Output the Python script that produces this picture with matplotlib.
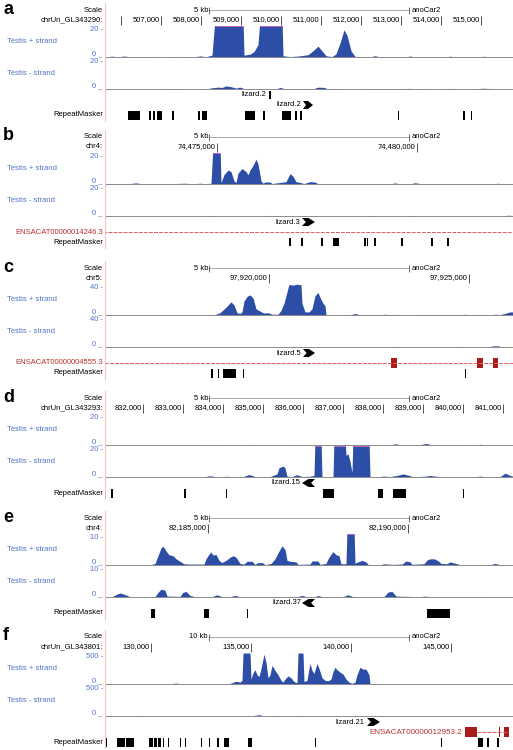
import numpy as np
import matplotlib.pyplot as plt
from matplotlib.lines import Line2D

plt.rcParams['font.family'] = ['Liberation Sans', 'DejaVu Sans']

W, H = 513, 750
LEFT, PW = 105, 408
FS = 5.5
BLUE = '#2d4ea6'
LBLUE = '#5573c4'
RED = '#a81c1c'
LRED = '#e06060'

# ---------------- data (genomic position, read depth) ----------------
# panel a  chrUn_GL343290
a_ticks = [506000, 507000, 508000, 509000, 510000, 511000, 512000, 513000, 514000, 515000]
a_tick_labels = ['', '507,000', '508,000', '509,000', '510,000', '511,000', '512,000',
                 '513,000', '514,000', '515,000']
a_plus = [(505600, 0.2), (505775, 0.5), (505925, 0.2), (506075, 0.6), (506225, 0.2), (507100, 0),
          (507275, 0.2), (507475, 0), (507850, 0.2), (507975, 0.7), (508125, 0.2), (508275, 1.2),
          (508350, 25), (509050, 25), (509075, 1.2), (509225, 1.8), (509325, 3.5), (509425, 8),
          (509475, 25), (510025, 25), (510050, 0.8), (510225, 0.3), (510425, 0.6), (510675, 1.5),
          (510800, 4), (510925, 7), (511025, 4), (511125, 0.8), (511275, 0.3), (511375, 2),
          (511475, 9), (511575, 17.5), (511650, 14), (511750, 4), (511850, 0.4), (512225, 0.1),
          (512350, 0.8), (512475, 0.1), (513100, 0.1), (513225, 0.6), (513350, 0.1), (514100, 0.1),
          (514225, 0.5), (514350, 0.1), (514975, 0.1), (515075, 0.5), (515200, 0.1), (515800, 0.1)]
a_minus = [(505600, 0), (507100, 0), (507275, 0.3), (507475, 0), (508100, 0), (508275, 0.8),
           (508425, 1.2), (508525, 1.0), (508625, 2.0), (508750, 1.5), (508875, 0.6), (508975, 1.2),
           (509075, 0.3), (509225, 0), (509875, 0), (509975, 1.0), (510100, 0.2), (510800, 0.1),
           (510925, 1.2), (511075, 1.0), (511175, 0.1), (512100, 0), (512275, 0.3), (512475, 0.1),
           (512725, 0.3), (512925, 0.1), (513175, 0.4), (513325, 0.1), (514100, 0), (514250, 0.4),
           (514375, 0), (514875, 0), (515025, 0.5), (515175, 0.4), (515275, 0), (515800, 0)]
a_rmsk = [(506175, 506475), (506700, 506750), (506800, 506850), (506900, 507025), (507275, 507325),
          (507925, 507975), (508025, 508150), (509100, 509350), (509550, 509600), (510025, 510250),
          (510350, 510400), (510475, 510525), (512925, 512960), (514550, 514600), (514750, 514785)]
a_lizard_1 = (509700, 509745)
a_lizard_2 = (510550, 510800)

# panel b  chr4
b_ticks = [74475000, 74480000]
b_tick_labels = ['74,475,000', '74,480,000']
b_plus = [(74472200, 0.3), (74472825, 0.3), (74472975, 0.7), (74473125, 0.2), (74473825, 0.2),
          (74474200, 0.5), (74474375, 0.2), (74474575, 0.5), (74474725, 0.2), (74474850, 0.5),
          (74474900, 25), (74475075, 25), (74475100, 1), (74475175, 6), (74475275, 9),
          (74475350, 8), (74475425, 2), (74475475, 1), (74475525, 7), (74475625, 10),
          (74475725, 8), (74475775, 6), (74475825, 9), (74475900, 12), (74475975, 16),
          (74476025, 13), (74476100, 2), (74476150, 0.5), (74476200, 1.3), (74476325, 1.3),
          (74476375, 0.3), (74476725, 1.5), (74476825, 6.7), (74476900, 5), (74476975, 1.5),
          (74477075, 1), (74477175, 0.3), (74477325, 1.5), (74477450, 1.3), (74477525, 0.2),
          (74479325, 0.1), (74479450, 0.7), (74479575, 0.1), (74479825, 0.1), (74479950, 0.8),
          (74480100, 0.2), (74481925, 0.1), (74482025, 0.5), (74482125, 0.1), (74482400, 0.1)]
b_minus = [(74472200, 0), (74474700, 0), (74474825, 0.3), (74474950, 0), (74476200, 0),
           (74476325, 0.4), (74476475, 0), (74478775, 0), (74478875, 0.3), (74478975, 0),
           (74479750, 0), (74479850, 0.3), (74479950, 0), (74482150, 0), (74482275, 0.5),
           (74482400, 0.3)]
b_rmsk = [(74476810, 74476845), (74477110, 74477145), (74477610, 74477645), (74477900, 74478050),
          (74478685, 74478720), (74478740, 74478775), (74478925, 74478975), (74479610, 74479645),
          (74480350, 74480400), (74480750, 74480800)]
b_lizard = (74477125, 74477450)
b_gene_span = (74470000, 74485000)
b_gene_exons = []

# panel c  chr5
c_ticks = [97920000, 97925000]
c_tick_labels = ['97,920,000', '97,925,000']
c_plus = [(97915900, 0), (97918525, 0), (97918650, 0.5), (97918775, 3), (97918925, 10),
          (97919050, 17), (97919125, 13), (97919200, 3), (97919275, 2), (97919325, 4),
          (97919375, 18), (97919450, 24), (97919525, 26), (97919600, 22), (97919675, 8),
          (97919775, 5), (97919875, 2.5), (97919975, 3), (97920075, 1), (97920225, 1),
          (97920300, 6), (97920375, 15), (97920450, 30), (97920500, 39.5), (97920600, 38.5),
          (97920700, 39.8), (97920800, 39), (97920825, 15), (97920900, 4), (97921000, 4),
          (97921075, 8), (97921150, 25), (97921225, 29), (97921300, 20), (97921350, 15),
          (97921400, 12), (97921425, 0),
          (97922025, 0), (97922150, 2), (97922275, 0.3), (97922775, 0.2), (97922900, 1),
          (97923025, 0.4), (97923150, 0.8), (97923275, 0.1), (97924775, 0.2), (97924900, 1),
          (97925025, 0.2), (97925525, 0.3), (97925650, 1), (97925775, 0.5), (97925900, 2),
          (97926025, 4), (97926100, 4)]
c_minus = [(97915900, 0), (97923025, 0), (97923150, 0.5), (97923275, 0), (97924650, 0),
           (97924775, 0.4), (97924900, 0), (97925475, 0), (97925600, 1.5), (97925725, 1.5),
           (97925825, 0), (97926100, 0)]
c_rmsk = [(97918560, 97918600), (97918715, 97918745), (97918850, 97919175), (97919340, 97919375),
          (97924890, 97924920)]
c_lizard = (97920850, 97921150)
c_gene_span = (97915000, 97927000)
c_gene_exons = [(97923050, 97923200), (97925200, 97925350), (97925600, 97925725)]

# panel d  chrUn_GL343293
d_ticks = [832000, 833000, 834000, 835000, 836000, 837000, 838000, 839000, 840000, 841000]
d_tick_labels = ['832,000', '833,000', '834,000', '835,000', '836,000', '837,000', '838,000',
                 '839,000', '840,000', '841,000']
d_plus = [(831050, 0), (833550, 0), (833725, 0.3), (833875, 0), (834525, 0), (834650, 0.4),
          (834775, 0), (835675, 0), (835800, 0.3), (835925, 0), (838175, 0), (838300, 0.8),
          (838450, 0.1), (838925, 0.2), (839075, 1), (839225, 0.2), (840300, 0), (840425, 0.5),
          (840575, 0), (841250, 0)]
d_minus = [(831050, 0), (833425, 0), (833550, 0.3), (833675, 0.8), (833800, 0.3), (833975, 0.2),
           (834100, 0.5), (834225, 0.1), (834500, 0.2), (834650, 1.6), (834800, 0.3), (835175, 0.2),
           (835350, 2), (835400, 6), (835500, 7), (835550, 6), (835600, 0.5), (835725, 0.3),
           (835850, 1.5), (835975, 0.3), (836175, 0.5), (836275, 1), (836300, 25), (836450, 25),
           (836475, 0), (836750, 0), (836775, 25), (837050, 25), (837075, 14), (837125, 15),
           (837175, 10), (837225, 3), (837250, 25), (837650, 25), (837675, 0.3), (837925, 0.2),
           (838000, 0.6), (838175, 0.3), (838350, 1.0), (838500, 2), (838650, 1), (838750, 0.2),
           (839050, 0.5), (839175, 1), (839325, 0.5), (839550, 0.1), (840300, 0.1), (840425, 0.6),
           (840550, 0.1), (840925, 0.2), (841050, 2.5), (841175, 1), (841250, 0.5)]
d_rmsk = [(831210, 831260), (833030, 833080), (834065, 834095), (836500, 836775), (837875, 838000),
          (838250, 838575), (839990, 840020)]
d_lizard = (835975, 836300)

# panel e  chr4
e_ticks = [82185000, 82190000]
e_tick_labels = ['82,185,000', '82,190,000']
e_plus = [(82182425, 0), (82183550, 0), (82183675, 0.5), (82183750, 3), (82183825, 5.5),
          (82183875, 6.1), (82183950, 4.5), (82184025, 3.3), (82184125, 3), (82184200, 2),
          (82184300, 1.2), (82184400, 0.4), (82184550, 0.3), (82184750, 0.3), (82184900, 0.3),
          (82184950, 2), (82185025, 3.5), (82185075, 4.2), (82185125, 3.2), (82185200, 3.4),
          (82185275, 1.5), (82185350, 0.8), (82185450, 1.5), (82185550, 2.5), (82185625, 3),
          (82185700, 2.5), (82185800, 0.5), (82185900, 0.3), (82185975, 1.2), (82186100, 1.2),
          (82186175, 0.2), (82186250, 0.8), (82186375, 0.7), (82186425, 0.1), (82186575, 0.5),
          (82186675, 2), (82186775, 4.5), (82186850, 6.2), (82186925, 5), (82186975, 1.5),
          (82187050, 1.2), (82187200, 1), (82187250, 0.2), (82187550, 0.3), (82187600, 1.3),
          (82187750, 1.3), (82187800, 0.2), (82187950, 0.5), (82188000, 2), (82188075, 3.5),
          (82188125, 4.3), (82188200, 3.3), (82188275, 3), (82188325, 0.4), (82188450, 0.4),
          (82188475, 12), (82188650, 12), (82188675, 0.6), (82188750, 1.0), (82188850, 1.5),
          (82188950, 1), (82189000, 0.2), (82189300, 0.1), (82189400, 0.4), (82189600, 0.2),
          (82189850, 0.3), (82189950, 1.3), (82190050, 1.0), (82190100, 0.2), (82190400, 0.4),
          (82190475, 1.6), (82190550, 2), (82190650, 2), (82190750, 1.4), (82190825, 0.5),
          (82190975, 0.4), (82191050, 1), (82191200, 0.5), (82191300, 0.1), (82192050, 0.1),
          (82192175, 0.5), (82192300, 0.1), (82192625, 0)]
e_minus = [(82182425, 0), (82182600, 0), (82182700, 0.8), (82182800, 1.3), (82182925, 0.8),
           (82183050, 0.1), (82183675, 0.1), (82183750, 1.5), (82183825, 2.5), (82183925, 2.2),
           (82183975, 0.3), (82184300, 0.2), (82184375, 1.5), (82184450, 1.8), (82184550, 0.5),
           (82184675, 0.1), (82185100, 0.1), (82185225, 0.7), (82185350, 0.1), (82185550, 0.1),
           (82185675, 0.5), (82185800, 0.1), (82187225, 0.1), (82187350, 0.5), (82187475, 0.1),
           (82187675, 0.1), (82187750, 0.5), (82187850, 0.1), (82188375, 0.1), (82188500, 0.7),
           (82188625, 0.1), (82189400, 0.1), (82189500, 1.6), (82189600, 1.8), (82189700, 0.3),
           (82190300, 0.1), (82190425, 0.3), (82190550, 0.1), (82192625, 0)]
e_rmsk = [(82183575, 82183675), (82184900, 82185025), (82185965, 82185995), (82190475, 82191050)]
e_lizard = (82187350, 82187675)

# panel f  chrUn_GL343801
f_ticks = [130000, 135000, 140000, 145000]
f_tick_labels = ['130,000', '135,000', '140,000', '145,000']
f_plus = [(127700, 0), (130950, 0), (131100, 10), (131300, 15), (131450, 0), (133850, 0),
          (134050, 20), (134250, 45), (134450, 30), (134550, 60), (134600, 500), (134950, 500),
          (135000, 80), (135100, 180), (135200, 230), (135300, 150), (135400, 120), (135500, 250),
          (135650, 480), (135750, 350), (135850, 100), (135950, 150), (136050, 300), (136200, 220),
          (136350, 150), (136500, 60), (136600, 30), (136700, 80), (136850, 130), (137000, 100),
          (137150, 40), (137300, 20), (137350, 500), (137600, 500), (137650, 40), (137800, 60),
          (137900, 250), (137950, 330), (138050, 220), (138150, 170), (138250, 280), (138300, 330),
          (138400, 250), (138550, 100), (138700, 60), (138850, 50), (139000, 80), (139100, 200),
          (139200, 270), (139300, 230), (139450, 190), (139600, 160), (139750, 80), (139900, 30),
          (140050, 10), (140200, 30), (140300, 150), (140450, 270), (140600, 240), (140750, 240),
          (140900, 150), (140950, 0), (148100, 0)]
f_minus = [(127700, 0), (129350, 0), (129500, 5), (129650, 0), (135050, 0), (135250, 15),
           (135450, 20), (135600, 0), (136250, 0), (136350, 5), (136450, 0), (137200, 0),
           (137300, 5), (137400, 0), (148100, 0)]
f_rmsk = [(127730, 127790), (128300, 128700), (128750, 129150), (129900, 130100), (130150, 130300),
          (130350, 130500), (130600, 130650), (130830, 130880), (131430, 131480), (131680, 131730),
          (132480, 132530), (132880, 132930), (133280, 133380), (133650, 133900), (134850, 135050),
          (138180, 138230), (144480, 144530), (146350, 146600), (146800, 146900), (147300, 147400)]
f_lizard = (140800, 141450)
f_gene_span = (146300, 147900)
f_gene_exons = [(145700, 146300), (147380, 147430), (147650, 147900)]

panels = [
    dict(letter='a', top=10, chrom='chrUn_GL343290:', start=505600, bp=25, scale=5000,
         scale_label='5 kb', ticks=a_ticks, labels=a_tick_labels, vmax=20,
         plus=a_plus, minus=a_minus,
         rows=[('tiny', 'lizard.2', a_lizard_1), ('arrow', 'lizard.2', a_lizard_2, 1),
               ('rmsk', a_rmsk)]),
    dict(letter='b', top=137, chrom='chr4:', start=74472200, bp=25, scale=5000,
         scale_label='5 kb', ticks=b_ticks, labels=b_tick_labels, vmax=20,
         plus=b_plus, minus=b_minus,
         rows=[('arrow', 'lizard.3', b_lizard, 1),
               ('gene', 'ENSACAT00000014246.3', b_gene_span, b_gene_exons, False),
               ('rmsk', b_rmsk)]),
    dict(letter='c', top=268, chrom='chr5:', start=97915900, bp=25, scale=5000,
         scale_label='5 kb', ticks=c_ticks, labels=c_tick_labels, vmax=40,
         plus=c_plus, minus=c_minus,
         rows=[('arrow', 'lizard.5', c_lizard, 1),
               ('gene', 'ENSACAT00000004555.3', c_gene_span, c_gene_exons, False),
               ('rmsk', c_rmsk)]),
    dict(letter='d', top=398, chrom='chrUn_GL343293:', start=831050, bp=25, scale=5000,
         scale_label='5 kb', ticks=d_ticks, labels=d_tick_labels, vmax=20,
         plus=d_plus, minus=d_minus,
         rows=[('arrow', 'lizard.15', d_lizard, -1), ('rmsk', d_rmsk)]),
    dict(letter='e', top=518, chrom='chr4:', start=82182425, bp=25, scale=5000,
         scale_label='5 kb', ticks=e_ticks, labels=e_tick_labels, vmax=10,
         plus=e_plus, minus=e_minus,
         rows=[('arrow', 'lizard.37', e_lizard, -1), ('rmsk', e_rmsk)]),
    dict(letter='f', top=637, chrom='chrUn_GL343801:', start=127700, bp=50, scale=10000,
         scale_label='10 kb', ticks=f_ticks, labels=f_tick_labels, vmax=500,
         plus=f_plus, minus=f_minus,
         rows=[('arrow', 'lizard.21', f_lizard, 1),
               ('gene', 'ENSACAT00000012953.2', f_gene_span, f_gene_exons, True),
               ('rmsk', f_rmsk)]),
]

fig = plt.figure(figsize=(W / 100, H / 100), dpi=100)


def px_axes(x, y, w, h):
    return fig.add_axes([x / W, 1 - (y + h) / H, w / W, h / H])


def left_text(ax, y, s, **kw):
    kw.setdefault('fontsize', FS)
    ax.text(-0.005, y, s, transform=ax.get_yaxis_transform(), ha='right', va='center', **kw)


def signal(y0, y1, x0, x1, data, vmax, name):
    pos = np.array([d[0] for d in data], float)
    val = np.array([d[1] for d in data], float)
    ax = px_axes(LEFT, y0, PW, y1 - y0)
    ax.fill_between(pos, 0, val, color=BLUE, lw=0)
    # clipped values get a thin magenta cap, as in the browser
    over = (val[:-1] > vmax) & (val[1:] > vmax)
    for i in np.flatnonzero(over):
        ax.plot(pos[i:i + 2], [vmax, vmax], color='#d868c0', lw=0.6, clip_on=False,
                solid_capstyle='butt')
    ax.set_xlim(x0, x1)
    ax.set_ylim(0, vmax)
    ax.axis('off')
    ax.axhline(0, color='#8c8c8c', lw=0.7, clip_on=False)
    ax.text(-0.005, 1, f'{vmax} -', transform=ax.transAxes, ha='right', va='top',
            fontsize=FS, color=LBLUE)
    ax.text(-0.005, 0, '0 _', transform=ax.transAxes, ha='right', va='bottom',
            fontsize=FS, color=LBLUE)
    fig.text(7 / W, 1 - (y0 + y1) / 2 / H, name, ha='left', va='center',
             fontsize=FS, color=LBLUE)


for p in panels:
    s = p['top']
    x0 = p['start']
    x1 = x0 + PW * p['bp']
    bp = p['bp']

    fig.text(3 / W, 1 - (s - 1) / H, p['letter'], fontsize=13, fontweight='bold',
             ha='left', va='center')

    # ruler: scale bar + chromosome coordinates
    ax = px_axes(LEFT, s - 6, PW, 22)
    ax.set_xlim(x0, x1)
    ax.set_ylim(22, 0)
    ax.axis('off')
    left_text(ax, 6, 'Scale')
    mid = (x0 + x1) / 2
    b0, b1 = mid - p['scale'] / 2, mid + p['scale'] / 2
    ax.plot([b0, b1], [6, 6], color='#a8a8a8', lw=0.7)
    ax.vlines([b0, b1], 3, 9.5, color='#555555', lw=0.6)
    ax.text(b0 - bp, 6, p['scale_label'], ha='right', va='center', fontsize=FS)
    ax.text(b1 + 3 * bp, 6, 'anoCar2', ha='left', va='center', fontsize=FS)
    left_text(ax, 16, p['chrom'])
    ax.vlines(p['ticks'], 11.5, 21, color='#333333', lw=0.6)
    for t, lab in zip(p['ticks'], p['labels']):
        ax.text(t - 1.5 * bp, 16, lab, ha='right', va='center', fontsize=FS)

    # coverage tracks
    signal(s + 16, s + 47, x0, x1, p['plus'], p['vmax'], 'Testis + strand')
    signal(s + 48, s + 79, x0, x1, p['minus'], p['vmax'], 'Testis - strand')

    # annotation rows
    ry = s + 85
    for row in p['rows']:
        ax = px_axes(LEFT, ry - 5, PW, 10)
        ax.set_xlim(x0, x1)
        ax.set_ylim(0, 1)
        ax.axis('off')
        kind = row[0]
        if kind == 'rmsk':
            ax.broken_barh([(a, b - a) for a, b in row[1]], (0.05, 0.9), color='black', lw=0)
            left_text(ax, 0.5, 'RepeatMasker')
        elif kind == 'tiny':
            a, b = row[2]
            ax.broken_barh([(a, b - a)], (0.08, 0.84), color='black', lw=0)
            ax.text(a - 3 * bp, 0.5, row[1], ha='right', va='center', fontsize=FS)
        elif kind == 'arrow':
            a, b = row[2]
            w = b - a
            if row[3] > 0:
                xs = [a, a + 0.5 * w, b, a + 0.5 * w, a, a + 0.3 * w]
            else:
                xs = [b, b - 0.5 * w, a, b - 0.5 * w, b, b - 0.3 * w]
            ys = [0.1, 0.1, 0.5, 0.9, 0.9, 0.5]
            ax.fill(xs, ys, color='black', lw=0)
            lx = a - 2 * bp if row[3] > 0 else a - 1 * bp
            ax.text(lx, 0.5, row[1], ha='right', va='center', fontsize=FS)
        elif kind == 'gene':
            g0, g1 = row[2]
            ax.plot([g0, g1], [0.5, 0.5], color=LRED, lw=0.7, ls=(0, (4, 1.2)))
            if row[3]:
                ax.broken_barh([(a, b - a) for a, b in row[3]], (0.0, 1.0), color=RED, lw=0)
            if row[4]:
                ax.text(row[3][0][0] - 3 * bp, 0.5, row[1], ha='right', va='center',
                        fontsize=FS + 0.3, color='#b83030')
            else:
                left_text(ax, 0.5, row[1], color='#b83030')
        ry += 10

    fig.add_artist(Line2D([104.5 / W] * 2, [1 - (s - 7) / H, 1 - (ry - 4) / H],
                          transform=fig.transFigure, color='#f3c6c6', lw=0.8))

fig.savefig('out.png', dpi=100)
